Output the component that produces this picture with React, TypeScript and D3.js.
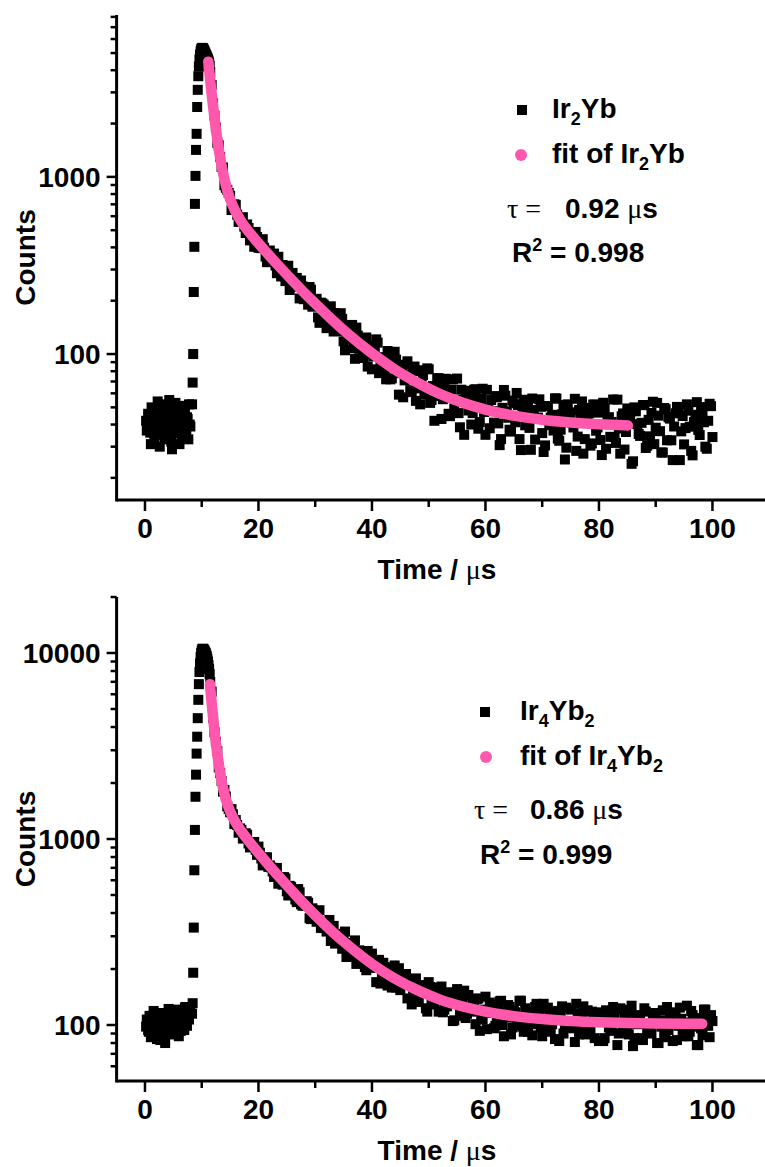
import React from 'react';
import * as d3 from 'd3';

const W = 765;
const H = 1167;

const xMajorTicks = [0, 20, 40, 60, 80, 100];
const xMinorTicks = [10, 30, 50, 70, 90, 110];

// ---------- Ir2Yb (top panel) ----------
const topBaseStart = 0.2;
const topBaseStep = 0.24;
const topBase = [42, 38, 45, 36, 50, 41, 33, 47, 39, 44, 30, 52, 40, 37, 46, 35, 43, 55, 38, 29, 48, 41, 36, 45, 39, 51, 34, 42, 47, 38, 44, 33, 40];
const topBase2Start = 0.32;
const topBase2 = [37, 46, 40, 31, 43, 49, 36, 41, 54, 35, 45, 39, 48, 33, 42, 50, 37, 44, 32, 47, 40, 53, 36, 43, 31, 46, 41, 38, 49, 35, 43, 52, 39];

const topRiseStart = 8.3;
const topRiseStep = 0.1;
const topRise = [52, 69, 100, 224, 403, 704, 1013, 1420, 1750, 2480, 3100, 3700, 4200, 4600, 4900, 5100, 5250, 5320, 5350, 5330, 5280, 5200, 5120, 5030, 4950, 4870, 4780, 4700, 4620, 4530, 4420, 4250];

const topDecayStart = 11.5;
const topDecayStep = 0.5;
const topDecay = [3900, 2600, 1899, 1507, 1138, 897, 845, 782, 659, 695, 557, 574, 524, 539, 438, 480, 489, 398, 396, 398, 330, 384, 348, 316, 354, 274, 293, 298, 230, 287, 240, 253, 260, 204, 213, 239, 185, 198, 161, 195, 190, 140, 169, 153, 170, 135, 170, 118, 134, 122, 146, 94, 127, 119, 95, 124, 100, 82, 108, 116, 86, 93, 72, 98, 73, 103, 78, 85, 57, 87, 76, 61, 85, 64, 52, 76, 65, 82, 55, 42, 73, 64.5, 55.6, 72.5, 46, 63, 49.4, 72.7, 38.6, 55, 62, 48, 40, 62.8, 55.6, 41.3, 63.7, 35, 49, 55, 41, 57, 30.6, 49.7, 58.2, 43.7, 36.5, 52.7, 60.3, 33.1, 46.7, 39.6, 53.9, 28.8, 48.3, 43, 55.5, 35.8, 30.5, 50.8, 43.8, 37, 56.1, 32.4, 45.7, 25.4, 52, 46.9, 38.5, 28.4, 48.3, 54, 33.1, 41.3, 30.4, 51.9, 36.9, 46.7, 26.9, 48.9, 42.4, 34.1, 55.4, 31.5, 38, 44.5, 28.9, 49.3, 42.7, 24.8, 47.5, 35.4, 40.9, 51.5, 30.4, 34.3, 53.8, 38.4, 44.9, 27.8, 49.6, 32.6, 43.2, 25.2, 46.3, 47.9, 36.6, 30.9, 52, 38.9, 26.8, 45.4, 37.3, 50.2, 41.2, 29.2, 52.4, 34];
const topDecay2Start = 11.75;
const topDecay2 = [3300, 2218, 1557, 1296, 1129, 868, 812, 650, 700, 612, 566, 592, 482, 515, 481, 403, 458, 400, 445, 355, 379, 348, 369, 286, 317, 318, 258, 315, 250, 251, 269, 206, 241, 221, 190, 231, 189, 205, 150, 193, 173, 151, 186, 134, 156, 138, 158, 105, 142, 132, 108, 141, 107, 111, 123, 85, 111, 97, 121, 78, 96, 81, 104, 72, 90, 93, 59, 79, 71, 91, 62.5, 80, 54.4, 81, 67.6, 59.2, 83, 53, 66, 58, 73, 43, 67, 62, 44.6, 72, 53.8, 46.4, 62.9, 35, 57.7, 54.3, 46.4, 63.3, 37.9, 55.8, 47.1, 62.8, 38.1, 47.6, 57.9, 40.6, 33.1, 62.7, 47.5, 37.4, 54.6, 41.2, 51.5, 28.7, 55.2, 48, 38.3, 56.1, 32.9, 43.8, 50.4, 28, 50.8, 39.7, 45.4, 56.2, 33.3, 37.4, 51.5, 29.6, 46.2, 41, 55.9, 34.2, 43.2, 27.4, 49.7, 46.3, 31.3, 51.8, 38.5, 32.7, 53.1, 29.2, 44, 41.4, 34, 55.3, 27.4, 46.2, 36.3, 47.7, 24, 50, 40.2, 34.5, 51.5, 29.5, 42.5, 46.5, 31, 53, 36.7, 27.8, 48.8, 44, 32.6, 39, 50.3, 25.2, 44.7, 38.2, 47.9, 28.4, 41.3, 53.5, 34.9, 46.1, 30, 42, 50.8];

const topFitT = [11.16, 11.5, 12, 12.5, 13, 13.5, 14, 14.5, 15, 16, 17, 18, 19, 20, 22, 24, 26, 28, 30, 33, 36, 40, 44, 48, 52, 56, 60, 65, 70, 75, 80, 85.1];
const topFitV = [4473, 3496, 2499, 1854, 1433, 1156, 969, 841, 750, 632, 558, 504, 460, 422, 357, 304, 260, 223, 193, 156, 128, 101, 82, 69, 59.5, 53.1, 48.6, 44.9, 42.6, 41.1, 40.1, 39.5];

// ---------- Ir4Yb2 (bottom panel) ----------
const botBaseStart = 0.2;
const botBaseStep = 0.24;
const botBase = [98, 105, 92, 110, 88, 101, 96, 115, 84, 103, 99, 108, 93, 112, 80, 104, 97, 118, 90, 106, 100, 113, 95, 121, 87, 109, 102, 117, 94, 125, 99, 110, 120];
const botBase2Start = 0.32;
const botBase2 = [107, 94, 112, 86, 100, 119, 91, 104, 97, 111, 83, 102, 116, 92, 105, 98, 122, 89, 108, 101, 95, 114, 99, 106, 118, 93, 111, 104, 124, 100, 113, 107, 118];

const botRiseStart = 8.3;
const botRiseStep = 0.1;
const botRise = [115, 131, 191, 334, 679, 1119, 1687, 2218, 2878, 3548, 4463, 5600, 6800, 7900, 8800, 9500, 10000, 10300, 10500, 10550, 10500, 10400, 10300, 10150, 10000, 9800, 9600, 9300, 9000, 8600, 8200, 7700];

const botDecayStart = 11.5;
const botDecayStep = 0.5;
const botDecay = [7000, 4484, 3332, 2424, 2051, 1836, 1498, 1393, 1357, 1264, 1081, 1120, 1013, 1054, 901, 944, 875, 910, 786, 735, 797, 721, 669, 692, 575, 622, 624, 523, 560, 516, 473, 538, 446, 457, 463, 375, 424, 379, 411, 333, 353, 318, 367, 339, 274, 292, 305, 309, 232, 276, 234, 285, 231, 233, 250, 197, 204, 242, 208, 214, 167, 216, 181, 191, 159, 209, 189, 154, 165, 188, 169, 129, 174, 143, 164, 151, 123, 170, 129, 132, 159, 146, 117, 128, 147, 134, 106, 156, 118, 136, 109, 145, 118, 129, 138, 93, 107, 142, 117, 129, 96, 108, 134, 100, 117, 128, 89, 120, 108, 135, 98, 123, 92, 112, 101, 130, 119, 87, 103, 124, 92, 112, 116, 82, 126, 100, 104, 121, 96, 130, 89, 111, 102, 120, 95, 109, 117, 82, 115, 85, 107, 93, 125, 102, 90, 121, 111, 96, 120, 77, 113, 102, 85, 123, 94, 99, 105, 116, 80, 98, 90, 125, 111, 82, 117, 99, 108, 87, 127, 92, 113, 103, 78, 96, 121, 112, 86, 105];
const botDecay2Start = 11.75;
const botDecay2 = [6200, 3749, 2970, 2262, 1798, 1693, 1452, 1447, 1203, 1189, 1140, 1005, 1074, 946, 921, 964, 822, 844, 721, 795, 708, 703, 625, 699, 611, 568, 614, 497, 553, 518, 458, 517, 438, 438, 454, 371, 406, 359, 414, 332, 340, 353, 283, 341, 292, 301, 257, 318, 252, 253, 274, 213, 252, 233, 205, 250, 203, 214, 170, 224, 191, 205, 163, 203, 170, 159, 202, 166, 173, 139, 175, 144, 178, 133, 148, 157, 118, 160, 136, 145, 118, 161, 121, 126, 150, 105, 130, 139, 112, 153, 115, 119, 129, 101, 139, 109, 121, 95, 132, 116, 99, 125, 135, 87, 110, 125, 97, 117, 100, 135, 92, 103, 117, 88, 125, 107, 96, 130, 94, 111, 101, 84, 119, 113, 90, 124, 97, 105, 81, 115, 100, 126, 89, 95, 118, 85, 106, 115, 82, 120, 97, 100, 112, 78, 123, 92, 108, 89, 127, 85, 101, 110, 83, 118, 97, 90, 115, 80, 106, 120, 86, 94, 112, 102, 83, 124, 92, 103, 87, 119, 98, 78, 109, 88, 121, 99, 113];

const botFitT = [11.45, 11.75, 12, 12.5, 13, 13.5, 14, 14.5, 15, 16, 17, 18, 19, 20, 22, 24, 26, 28, 30, 33, 36, 40, 44, 48, 52, 56, 60, 65, 70, 75, 80, 85, 90, 95, 98.2];
const botFitV = [6800, 5388, 4501, 3273, 2521, 2051, 1750, 1549, 1408, 1223, 1099, 1001, 917, 842, 714, 609, 522, 449, 389, 318, 265, 213, 178, 154, 137, 125.8, 118, 111.6, 107.6, 105.1, 103.5, 102.5, 101.9, 101.6, 101.5];

const PINK = '#ff58ad';
const FONT = "'Liberation Sans', Arial, sans-serif";
const SERIF = "'Liberation Serif', 'Times New Roman', serif";

type Pt = { t: number; v: number };

function segment(start: number, step: number, vals: number[]): Pt[] {
  return vals.map((v, i) => ({ t: start + i * step, v }));
}

type PanelProps = {
  yTop: number;
  yBottom: number;
  yDomain: [number, number];
  yMajor: number[];
  points: Pt[];
  fit: Pt[];
  legend: React.ReactNode;
};

function Panel({ yTop, yBottom, yDomain, yMajor, points, fit, legend }: PanelProps) {
  const x = d3.scaleLinear().domain([-5, 110]).range([116.6, 769.2]);
  const y = d3.scaleLog().domain(yDomain).range([yBottom, yTop]);
  const axisX = x(-5);
  const minor: number[] = [];
  [1, 10, 100, 1000, 10000].forEach((d) => {
    for (let k = 2; k <= 9; k++) {
      const v = k * d;
      if (v > yDomain[0] * 1.02 && v <= yDomain[1] * 1.001) minor.push(v);
    }
  });
  const line = d3
    .line<Pt>()
    .x((d) => x(d.t))
    .y((d) => y(d.v))
    .curve(d3.curveMonotoneX);
  const sq = 10;
  return (
    <g>
      {points.map((p, i) => (
        <rect key={i} x={x(p.t) - sq / 2} y={y(p.v) - sq / 2} width={sq} height={sq} fill="#000" />
      ))}
      <path d={line(fit) || ''} fill="none" stroke={PINK} strokeWidth={10.5} strokeLinecap="round" strokeLinejoin="round" />
      <line x1={axisX} x2={W + 10} y1={yBottom} y2={yBottom} stroke="#000" strokeWidth={3} />
      <line x1={axisX} x2={axisX} y1={yTop} y2={yBottom + 1.5} stroke="#000" strokeWidth={3} />
      {xMajorTicks.map((t) => (
        <g key={'xm' + t}>
          <line x1={x(t)} x2={x(t)} y1={yBottom} y2={yBottom + 11} stroke="#000" strokeWidth={2.5} />
          <text x={x(t)} y={yBottom + 38} textAnchor="middle" fontFamily={FONT} fontWeight="bold" fontSize={28}>
            {t}
          </text>
        </g>
      ))}
      {xMinorTicks.map((t) => (
        <line key={'xn' + t} x1={x(t)} x2={x(t)} y1={yBottom} y2={yBottom + 7} stroke="#000" strokeWidth={2.5} />
      ))}
      {yMajor.map((v) => (
        <g key={'ym' + v}>
          <line x1={axisX - 10} x2={axisX} y1={y(v)} y2={y(v)} stroke="#000" strokeWidth={2.5} />
          <text x={axisX - 16} y={y(v) + 10} textAnchor="end" fontFamily={FONT} fontWeight="bold" fontSize={28}>
            {v}
          </text>
        </g>
      ))}
      {minor.map((v) => (
        <line key={'yn' + v} x1={axisX - 6} x2={axisX} y1={y(v)} y2={y(v)} stroke="#000" strokeWidth={2.5} />
      ))}
      <text
        transform={`translate(35,${(yTop + yBottom) / 2}) rotate(-90)`}
        textAnchor="middle"
        fontFamily={FONT}
        fontWeight="bold"
        fontSize={28}
      >
        Counts
      </text>
      <text x={437} y={yBottom + 79} textAnchor="middle" fontFamily={FONT} fontWeight="bold" fontSize={28}>
        Time / <tspan fontFamily={SERIF} fontWeight="normal">μ</tspan>s
      </text>
      {legend}
    </g>
  );
}

export default function App() {
  const topPoints = [
    ...segment(topBaseStart, topBaseStep, topBase),
    ...segment(topBase2Start, topBaseStep, topBase2),
    ...segment(topRiseStart, topRiseStep, topRise),
    ...segment(topDecayStart, topDecayStep, topDecay),
    ...segment(topDecay2Start, topDecayStep, topDecay2),
  ];
  const botPoints = [
    ...segment(botBaseStart, botBaseStep, botBase),
    ...segment(botBase2Start, botBaseStep, botBase2),
    ...segment(botRiseStart, botRiseStep, botRise),
    ...segment(botDecayStart, botDecayStep, botDecay),
    ...segment(botDecay2Start, botDecayStep, botDecay2),
  ];
  const topFit = topFitT.map((t, i) => ({ t, v: topFitV[i] }));
  const botFit = botFitT.map((t, i) => ({ t, v: botFitV[i] }));

  const fs = 28;
  const sub = 18;

  const topLegend = (
    <g fontFamily={FONT} fontWeight="bold" fontSize={fs}>
      <rect x={517} y={105} width={10} height={10} fill="#000" />
      <text x={552} y={118}>
        Ir<tspan fontSize={sub} dy={7}>2</tspan>
        <tspan dy={-7}>Yb</tspan>
      </text>
      <circle cx={521} cy={155} r={6} fill={PINK} />
      <text x={552} y={163}>
        fit of Ir<tspan fontSize={sub} dy={7}>2</tspan>
        <tspan dy={-7}>Yb</tspan>
      </text>
      <text x={507} y={218} fontFamily={SERIF} fontWeight="normal">τ =</text>
      <text x={565} y={218}>
        0.92 <tspan fontFamily={SERIF} fontWeight="normal">μ</tspan>s
      </text>
      <text x={512} y={262}>
        R<tspan fontSize={sub} dy={-11}>2</tspan>
        <tspan dy={11}> = 0.998</tspan>
      </text>
    </g>
  );

  const botLegend = (
    <g fontFamily={FONT} fontWeight="bold" fontSize={fs}>
      <rect x={480} y={707} width={10} height={10} fill="#000" />
      <text x={520} y={720}>
        Ir<tspan fontSize={sub} dy={7}>4</tspan>
        <tspan dy={-7}>Yb</tspan>
        <tspan fontSize={sub} dy={7}>2</tspan>
      </text>
      <circle cx={486} cy={757} r={6} fill={PINK} />
      <text x={520} y={765}>
        fit of Ir<tspan fontSize={sub} dy={7}>4</tspan>
        <tspan dy={-7}>Yb</tspan>
        <tspan fontSize={sub} dy={7}>2</tspan>
      </text>
      <text x={474} y={819} fontFamily={SERIF} fontWeight="normal">τ =</text>
      <text x={530} y={819}>
        0.86 <tspan fontFamily={SERIF} fontWeight="normal">μ</tspan>s
      </text>
      <text x={480} y={864}>
        R<tspan fontSize={sub} dy={-11}>2</tspan>
        <tspan dy={11}> = 0.999</tspan>
      </text>
    </g>
  );

  return (
    <svg
      width={W}
      height={H}
      viewBox={`0 0 ${W} ${H}`}
      style={{ position: 'absolute', left: 0, top: 0, background: '#fff' }}
    >
      <rect x={0} y={0} width={W} height={H} fill="#fff" />
      <Panel
        yTop={15}
        yBottom={500}
        yDomain={[15, 8200]}
        yMajor={[100, 1000]}
        points={topPoints}
        fit={topFit}
        legend={topLegend}
      />
      <Panel
        yTop={597}
        yBottom={1081}
        yDomain={[50, 20000]}
        yMajor={[100, 1000, 10000]}
        points={botPoints}
        fit={botFit}
        legend={botLegend}
      />
    </svg>
  );
}
